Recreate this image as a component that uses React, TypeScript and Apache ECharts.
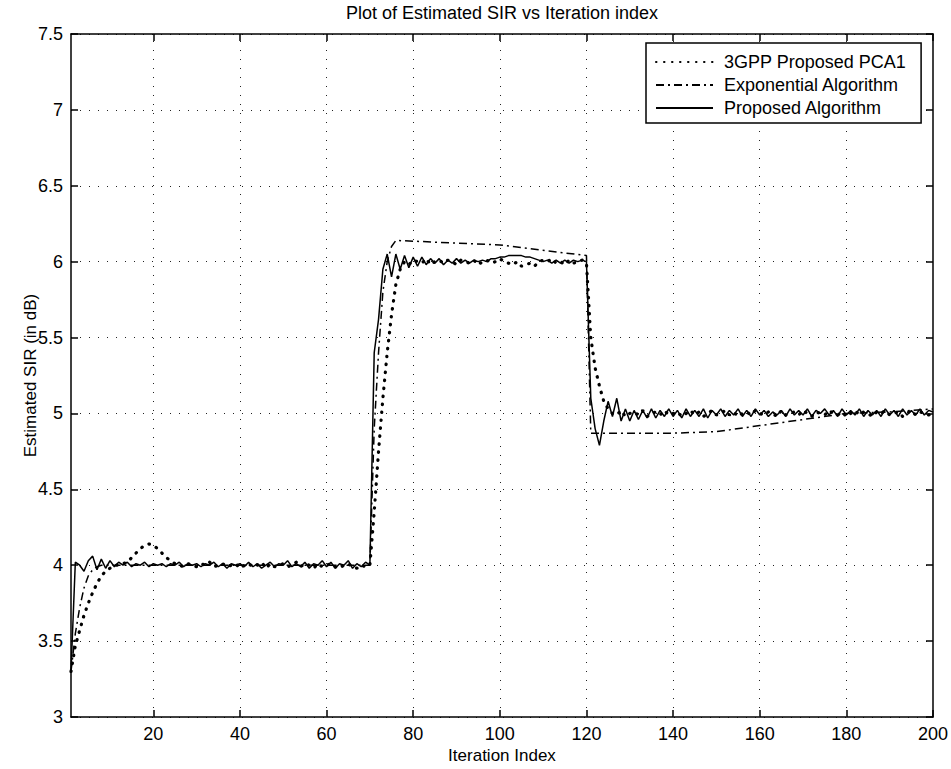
import React, { useEffect, useRef } from "react";
import * as echarts from "echarts";

const TITLE = "Plot of Estimated SIR vs Iteration index";
const X_NAME = "Iteration Index";
const Y_NAME = "Estimated SIR (in dB)";
const SERIES_NAMES = ["3GPP Proposed PCA1", "Exponential Algorithm", "Proposed Algorithm"];
const X_TICKS = [20, 40, 60, 80, 100, 120, 140, 160, 180, 200];
const X_GRID = [20, 40, 60, 80, 100, 120, 140, 160, 180];

// 3GPP Proposed PCA1, iterations 1..200
const PCA1 = [
  3.30, 3.47, 3.57, 3.67, 3.75, 3.82, 3.88, 3.93, 3.96, 3.98,
  4.00, 4.00, 4.01, 4.02, 4.05, 4.08, 4.11, 4.13, 4.14, 4.13,
  4.11, 4.08, 4.05, 4.03, 4.01, 4.00, 3.99, 4.01, 4.00, 3.99,
  4.01, 4.00, 4.02, 3.99, 4.00, 4.01, 3.99, 4.00, 4.01, 3.98,
  4.00, 4.01, 3.99, 4.00, 4.02, 3.98, 4.01, 3.99, 4.00, 4.01,
  3.99, 4.00, 4.02, 3.99, 4.01, 4.00, 3.98, 4.01, 3.99, 4.00,
  4.01, 3.99, 3.98, 4.00, 4.01, 3.99, 3.98, 4.00, 3.99, 4.00,
  4.35, 4.75, 5.10, 5.40, 5.65, 5.85, 5.95, 6.00, 5.98, 6.01,
  6.00, 5.99, 6.02, 5.98, 6.00, 6.01, 5.99, 6.01, 6.00, 5.98,
  6.01, 6.00, 5.99, 6.01, 5.98, 6.00, 6.01, 5.99, 6.00, 6.02,
  6.00, 5.99, 5.98, 6.00, 5.97, 5.98, 5.99, 5.97, 6.00, 6.01,
  6.00, 6.02, 5.99, 6.00, 5.98, 6.01, 5.99, 6.00, 6.01, 5.99,
  5.50, 5.30, 5.18, 5.08, 5.03, 5.00, 4.99, 5.02, 4.98, 5.00,
  5.01, 4.99, 5.02, 4.98, 5.00, 5.01, 4.99, 5.02, 4.99, 5.00,
  5.01, 4.98, 5.00, 5.02, 4.99, 5.01, 4.98, 5.00, 5.02, 4.99,
  5.00, 5.02, 4.99, 5.01, 4.98, 5.00, 5.01, 4.99, 5.02, 5.00,
  4.99, 5.01, 5.00, 4.98, 5.02, 4.99, 5.00, 5.01, 4.99, 5.02,
  5.00, 4.98, 5.01, 5.00, 4.99, 5.02, 5.00, 4.99, 5.01, 4.98,
  5.00, 5.02, 4.99, 5.01, 5.00, 4.98, 5.01, 5.00, 5.02, 4.99,
  5.00, 5.01, 4.98, 5.00, 5.02, 4.99, 5.01, 5.00, 4.99, 5.00,
];

// Exponential Algorithm: [iteration, value] break points
const EXPONENTIAL = [
  [1, 3.30], [2, 3.55], [3, 3.72], [4, 3.85], [5, 3.93], [6, 3.97], [7, 3.99], [8, 4.00],
  [70, 4.00], [71, 4.90], [72, 5.40], [73, 5.80], [74, 6.00], [75, 6.10], [76, 6.14],
  [100, 6.11], [120, 6.04], [121, 4.87], [140, 4.87], [150, 4.88], [160, 4.92],
  [170, 4.96], [180, 5.00], [190, 5.01], [200, 5.03],
];

// Proposed Algorithm, iterations 1..200
const PROPOSED = [
  3.30, 4.02, 4.00, 3.96, 4.03, 4.06, 3.97, 4.04, 3.98, 4.03,
  3.99, 4.02, 4.00, 4.02, 3.99, 4.01, 4.00, 4.02, 3.99, 4.01,
  4.00, 4.01, 3.99, 4.01, 4.00, 4.02, 3.99, 4.01, 4.00, 4.01,
  3.99, 4.01, 4.00, 4.02, 3.99, 4.01, 3.98, 4.01, 4.00, 4.01,
  3.99, 4.02, 3.99, 4.01, 3.98, 4.00, 4.02, 3.99, 4.01, 4.00,
  4.03, 3.99, 4.01, 3.99, 4.02, 3.98, 4.01, 4.00, 4.03, 3.99,
  4.02, 3.98, 4.01, 4.00, 4.03, 3.98, 4.01, 3.99, 4.02, 4.00,
  5.40, 5.62, 5.95, 6.05, 5.90, 6.05, 5.95, 6.04, 5.96, 6.03,
  5.97, 6.03, 5.98, 6.02, 5.99, 6.02, 5.98, 6.01, 5.99, 6.02,
  5.99, 6.01, 5.99, 6.01, 6.00, 6.01, 6.00, 6.02, 6.02, 6.03,
  6.03, 6.04, 6.04, 6.04, 6.04, 6.03, 6.03, 6.02, 6.01, 6.00,
  6.01, 5.99, 6.01, 5.99, 6.01, 5.99, 6.01, 6.00, 6.01, 6.00,
  5.10, 4.90, 4.79, 4.95, 5.08, 4.98, 5.10, 4.95, 5.03, 4.95,
  5.02, 4.96, 5.02, 4.97, 5.03, 4.97, 5.02, 4.98, 5.03, 4.98,
  5.02, 4.97, 5.03, 4.98, 5.02, 4.98, 5.03, 4.97, 5.02, 4.99,
  5.03, 4.98, 5.02, 4.99, 5.03, 4.98, 5.02, 4.98, 5.03, 4.99,
  5.02, 4.98, 5.01, 4.99, 5.02, 4.98, 5.03, 4.99, 5.02, 4.99,
  5.03, 4.98, 5.02, 5.00, 5.03, 4.99, 5.02, 4.98, 5.03, 4.99,
  5.02, 4.99, 5.03, 4.98, 5.02, 4.99, 5.02, 4.98, 5.03, 4.99,
  5.02, 4.98, 5.03, 4.99, 5.02, 4.99, 5.03, 4.99, 5.02, 5.01,
];

const FONT = "'Liberation Sans', Arial, Helvetica, sans-serif";

export default function App() {
  const ref = useRef<HTMLDivElement>(null);
  useEffect(() => {
    if (!ref.current) return;
    const chart = echarts.init(ref.current, null, { renderer: "svg" });
    const toPairs = (arr: number[]) => arr.map((v, i) => [i + 1, v]);
    const gridDots = { color: "#222", width: 1, type: [1, 8] as number[] };
    const axisCommon = {
      axisLine: { show: true, lineStyle: { color: "#000", width: 1.5 } },
      axisTick: { show: true, inside: true, length: 7, lineStyle: { color: "#000", width: 1.5 } },
    };
    const option: any = {
      animation: false,
      backgroundColor: "#fff",
      textStyle: { fontFamily: FONT },
      graphic: [
        {
          type: "text",
          x: 502,
          y: 4,
          style: { text: TITLE, fontSize: 18, fontFamily: FONT, fill: "#000", textAlign: "center", textVerticalAlign: "top" },
        },
      ],
      grid: { left: 71, top: 34, right: 17, bottom: 52 },
      legend: {
        orient: "vertical",
        left: 646,
        top: 43,
        padding: [9, 15, 5, 9],
        itemWidth: 57,
        itemHeight: 14,
        itemGap: 3,
        backgroundColor: "#fff",
        borderColor: "#000",
        borderWidth: 1.5,
        borderRadius: 0,
        selectedMode: false,
        itemStyle: { opacity: 0 },
        textStyle: { fontSize: 18, fontFamily: FONT, color: "#000", lineHeight: 20, padding: [0, 0, 0, 6] },
        data: SERIES_NAMES,
      },
      xAxis: [
        {
          type: "value",
          min: 1,
          max: 200,
          position: "bottom",
          ...axisCommon,
          axisTick: { ...axisCommon.axisTick, customValues: X_TICKS },
          axisLabel: { customValues: X_TICKS, fontSize: 18, color: "#000", margin: 8, fontFamily: FONT },
          splitLine: { show: false },
          name: X_NAME,
          nameLocation: "middle",
          nameGap: 30,
          nameMoveOverlap: false,
          nameTextStyle: { fontSize: 17, color: "#000", fontFamily: FONT },
        },
        {
          type: "value",
          min: 1,
          max: 200,
          position: "top",
          ...axisCommon,
          axisTick: { ...axisCommon.axisTick, customValues: X_TICKS },
          axisLabel: { show: false },
          splitLine: { show: false },
        },
      ],
      yAxis: [
        {
          type: "value",
          min: 3,
          max: 7.5,
          interval: 0.5,
          position: "left",
          ...axisCommon,
          axisLabel: { fontSize: 18, color: "#000", margin: 8, fontFamily: FONT },
          splitLine: { show: true, lineStyle: gridDots },
          name: Y_NAME,
          nameLocation: "middle",
          nameGap: 32,
          nameMoveOverlap: false,
          nameTextStyle: { fontSize: 17, color: "#000", fontFamily: FONT },
        },
        {
          type: "value",
          min: 3,
          max: 7.5,
          interval: 0.5,
          position: "right",
          ...axisCommon,
          axisLabel: { show: false },
          splitLine: { show: false },
        },
      ],
      series: [
        {
          name: SERIES_NAMES[0],
          type: "line",
          data: toPairs(PCA1),
          symbol: "none",
          z: 3,
          lineStyle: { color: "#000", width: 3.2, type: [0.5, 7.5], cap: "round" },
          markLine: {
            silent: true,
            symbol: "none",
            label: { show: false },
            lineStyle: gridDots,
            data: X_GRID.map((v) => ({ xAxis: v })),
            z: 1,
          },
        },
        {
          name: SERIES_NAMES[1],
          type: "line",
          data: EXPONENTIAL,
          symbol: "none",
          z: 3,
          lineStyle: { color: "#000", width: 1.5, type: [8, 4, 2, 4] },
        },
        {
          name: SERIES_NAMES[2],
          type: "line",
          data: toPairs(PROPOSED),
          symbol: "none",
          z: 4,
          lineStyle: { color: "#000", width: 1.5, type: "solid" },
        },
      ],
    };
    chart.setOption(option);
    return () => chart.dispose();
  }, []);
  return (
    <div
      ref={ref}
      style={{ position: "fixed", left: 0, top: 0, width: 951, height: 769, background: "#fff" }}
    />
  );
}
